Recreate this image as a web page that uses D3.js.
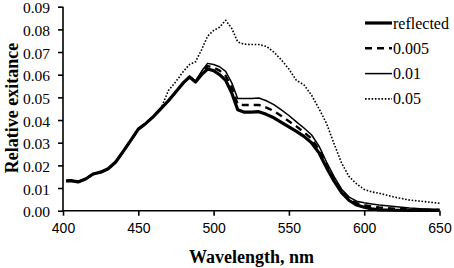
<!DOCTYPE html>
<html><head><meta charset="utf-8">
<script src="https://cdn.jsdelivr.net/npm/d3@7"></script>
<style>body{margin:0;background:#fff}svg{display:block}</style>
</head><body>
<svg id="c" width="454" height="268"></svg>
<script>
const wavelengths = [402,405,410,415,420,425,430,435,440,445,450,455,460,465,470,475,480,484,488,492,496,500,504,508,512,516,520,525,530,535,540,545,550,555,560,565,570,575,580,585,590,595,600,605,610,620,630,640,650];
const reflected = [.0131,.0133,.0127,.0140,.0162,.0170,.0185,.0215,.0262,.0310,.0360,.0385,.0415,.0450,.0485,.0525,.0565,.0590,.0568,.0600,.0625,.0618,.0600,.0575,.0520,.0445,.0435,.0435,.0437,.0425,.0410,.0390,.0370,.0350,.0328,.0300,.0255,.0190,.0130,.0080,.0045,.0025,.0015,.0008,.0004,.0002,.0001,.0001,.0001];
const s005 = [.0131,.0133,.0127,.0140,.0162,.0170,.0185,.0215,.0262,.0310,.0360,.0385,.0415,.0450,.0485,.0525,.0565,.0591,.0570,.0608,.0638,.0632,.0618,.0595,.0545,.0470,.0466,.0466,.0467,.0455,.0440,.0418,.0395,.0372,.0346,.0318,.0270,.0203,.0140,.0088,.0052,.0033,.0024,.0018,.0014,.0009,.0006,.0004,.0003];
const s01 = [.0131,.0133,.0127,.0140,.0162,.0170,.0185,.0215,.0262,.0310,.0360,.0385,.0415,.0450,.0485,.0525,.0565,.0592,.0572,.0615,.0650,.0645,.0635,.0615,.0565,.0495,.0495,.0495,.0497,.0485,.0468,.0445,.0420,.0392,.0365,.0335,.0285,.0215,.0150,.0095,.0060,.0042,.0035,.0030,.0025,.0018,.0012,.0008,.0005];
const s05 = [.0131,.0133,.0127,.0140,.0162,.0170,.0185,.0215,.0262,.0310,.0360,.0385,.0415,.0450,.0530,.0570,.0615,.0645,.0657,.0710,.0770,.0795,.0810,.0840,.0805,.0745,.0735,.0733,.0733,.0725,.0700,.0665,.0625,.0575,.0555,.0510,.0450,.0385,.0295,.0210,.0150,.0118,.0094,.0083,.0077,.0060,.0047,.0040,.0033];
const seriesNames = ["reflected","0.005","0.01","0.05"];
const xTicks = [400,450,500,550,600,650];
const yTicks = [0,0.01,0.02,0.03,0.04,0.05,0.06,0.07,0.08,0.09];

const styles = [
  {w:3.2, dash:null},
  {w:2.4, dash:"7,5"},
  {w:1.5, dash:null},
  {w:1.6, dash:"1.6,1.7"}
];
const data = [reflected, s005, s01, s05];

const svg = d3.select("#c");
const x = d3.scaleLinear().domain([400,650]).range([63,439.5]);
const y = d3.scaleLinear().domain([0,0.09]).range([210.7,6.7]);

const xa = svg.append("g").attr("transform","translate(0,210.7)")
  .call(d3.axisBottom(x).tickValues(xTicks).tickSize(5).tickPadding(7).tickFormat(d3.format("d")));
xa.selectAll("text").attr("font-family","Liberation Sans, Arial, sans-serif").attr("font-size","14px").attr("fill","#000");
const ya = svg.append("g").attr("transform","translate(63,0)")
  .call(d3.axisLeft(y).tickValues(yTicks).tickSize(5).tickPadding(8).tickFormat(d3.format(".2f")));
ya.selectAll("text").attr("font-family","Liberation Serif, Times New Roman, serif").attr("font-size","15.5px").attr("fill","#000").attr("dy","0.4em");
[xa,ya].forEach(a=>{
  a.select(".domain").attr("stroke","#000").attr("stroke-width",1.6);
  a.selectAll(".tick line").attr("stroke","#000").attr("stroke-width",1.6);
});
xa.select(".domain").attr("d",`M63,0H439.5`);
ya.select(".domain").attr("d",`M0,6.7V210.7`);

const line = d3.line().x((d,i)=>x(wavelengths[i])).y(d=>y(d));
[3,0,2,1].forEach(k=>{
  svg.append("path").datum(data[k]).attr("d",line).attr("fill","none")
    .attr("stroke","#000").attr("stroke-width",styles[k].w)
    .attr("stroke-linejoin","round")
    .attr("stroke-dasharray",styles[k].dash);
});

const lg = svg.append("g");
seriesNames.forEach((n,i)=>{
  const yy = 23 + i*25.3;
  lg.append("line").attr("x1",365).attr("x2",392).attr("y1",yy).attr("y2",yy)
    .attr("stroke","#000").attr("stroke-width",styles[i].w).attr("stroke-dasharray",styles[i].dash);
  lg.append("text").attr("x",393).attr("y",yy+5.5).text(n)
    .attr("font-family","Liberation Serif, Times New Roman, serif").attr("font-size","16px");
});

svg.append("text").attr("x",251.5).attr("y",263).attr("text-anchor","middle")
  .attr("font-family","Liberation Serif, Times New Roman, serif").attr("font-weight","bold").attr("font-size","18px")
  .text("Wavelength, nm");
svg.append("text").attr("transform","translate(18,108) rotate(-90)").attr("text-anchor","middle")
  .attr("font-family","Liberation Serif, Times New Roman, serif").attr("font-weight","bold").attr("font-size","18px")
  .text("Relative exitance");
</script>
</body></html>
